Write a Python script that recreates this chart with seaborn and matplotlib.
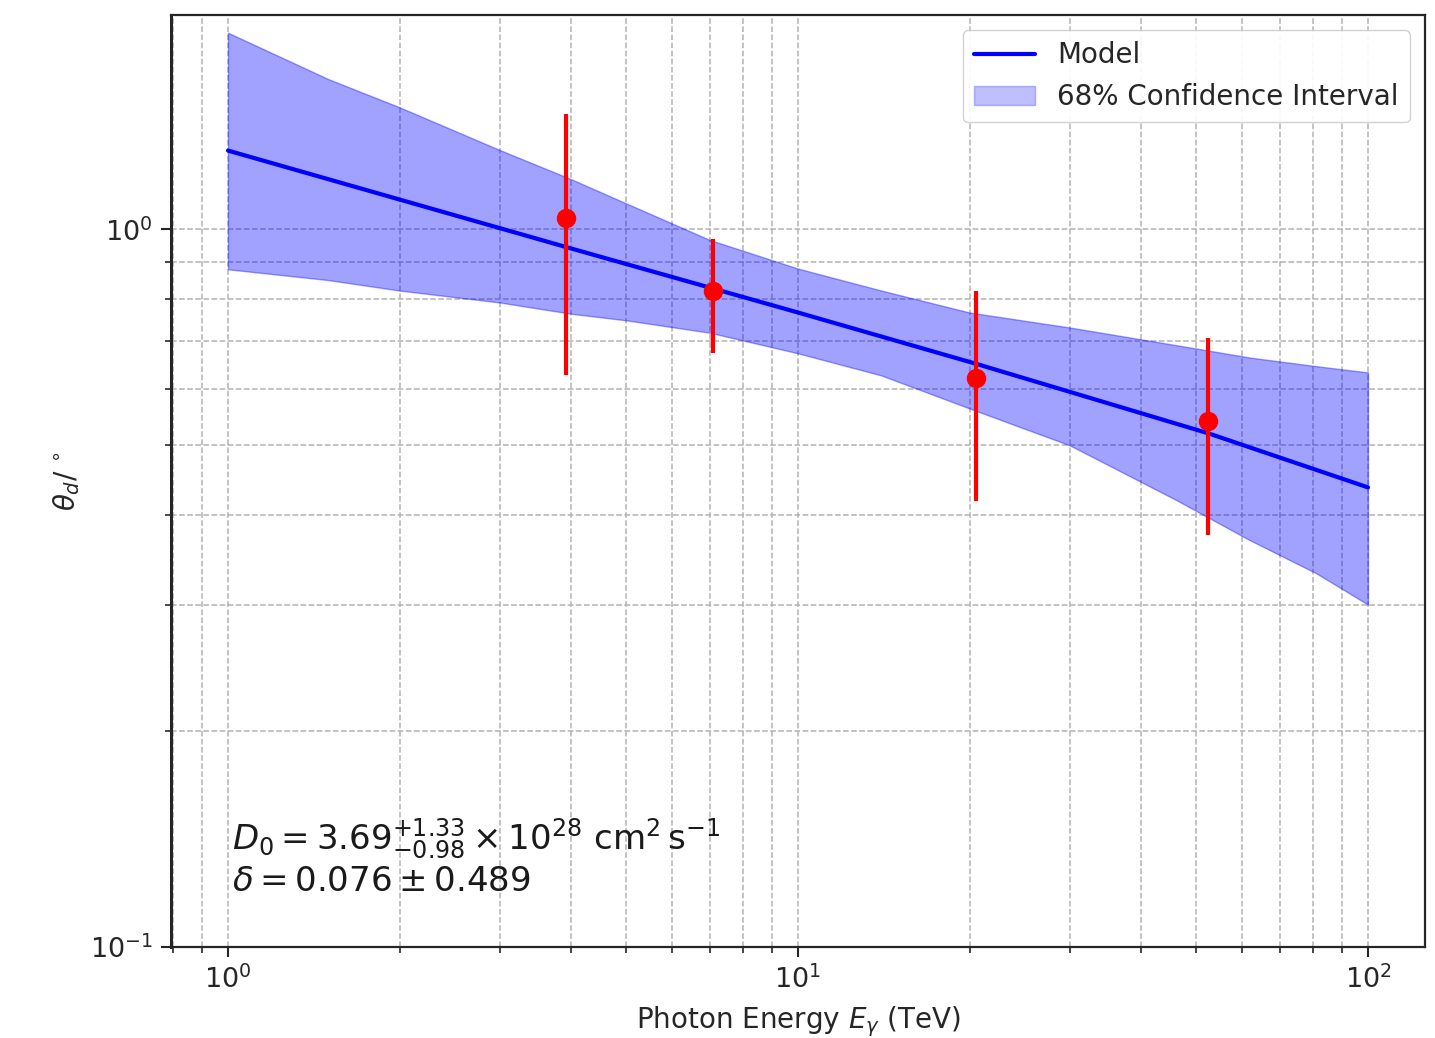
import numpy as np
import pandas as pd
import matplotlib
matplotlib.use("Agg")
import matplotlib.pyplot as plt
import seaborn as sns
from matplotlib.patches import Patch
from matplotlib.lines import Line2D

# ---- data ----
band_E = [1.0, 1.5, 2.0, 3.0, 4.0, 5.0, 7.0, 10.0, 14.0, 20.0, 30.0, 46.0, 62.0, 81.0, 100.0]
band_upper = [1.88, 1.62, 1.48, 1.29, 1.175, 1.087, 0.967, 0.882, 0.822, 0.766, 0.73, 0.69, 0.663, 0.645, 0.632]
band_lower = [0.880, 0.85, 0.822, 0.791, 0.763, 0.747, 0.718, 0.672, 0.626, 0.563, 0.50, 0.42, 0.369, 0.332, 0.300]

model_E = [1.0, 3.92, 10.0, 20.5, 52.4, 100.0]
model_theta = [1.288, 0.945, 0.766, 0.650, 0.520, 0.437]

obs_E = [3.92, 7.09, 20.5, 52.4]
obs_theta = [1.039, 0.820, 0.620, 0.540]
obs_upper = [1.45, 0.971, 0.822, 0.705]
obs_lower = [0.626, 0.672, 0.419, 0.375]

text_D0 = r'$D_0 = 3.69^{+1.33}_{-0.98} \times 10^{28}\ \mathrm{cm}^2\,\mathrm{s}^{-1}$'
text_delta = r'$\delta = 0.076 \pm 0.489$'

sns.set_style("ticks")
plt.rcParams['font.family'] = ['DejaVu Sans']

fig = plt.figure(figsize=(14.35, 10.38), dpi=100)
ax = fig.add_axes([171/1435, 1 - 947/1038, (1425-171)/1435, (947-15)/1038])

ax.fill_between(band_E, band_lower, band_upper, color='blue', alpha=0.37,
                edgecolor='blue', linewidth=1.0, zorder=2)

model_df = pd.DataFrame({'E': model_E, 'theta': model_theta})
sns.lineplot(data=model_df, x='E', y='theta', ax=ax, color='blue', linewidth=3,
             zorder=3, legend=False)

obs_theta_a = np.array(obs_theta)
yerr = [obs_theta_a - np.array(obs_lower), np.array(obs_upper) - obs_theta_a]
ax.errorbar(obs_E, obs_theta, yerr=yerr, fmt='o', color='red', ms=13,
            elinewidth=3, capsize=0, zorder=4)

ax.set_xscale('log')
ax.set_yscale('log')
ax.set_xlim(10**-0.1, 10**2.1)
ax.set_ylim(0.1, 1.99)

ax.grid(True, which='both', linestyle='--', color='0.7', linewidth=1.1, zorder=0)
ax.set_axisbelow(True)

for s in ax.spines.values():
    s.set_linewidth(1.6)
    s.set_color('0.15')
ax.spines['left'].set_linewidth(2.2)

ax.tick_params(which='major', length=7, width=1.5, labelsize=19.5, direction='out',
               color='0.15', pad=6)
ax.tick_params(which='minor', length=4, width=1.2, direction='out', color='0.15')

ax.set_xlabel(r'Photon Energy $E_\gamma$ (TeV)', fontsize=20, color='0.15', labelpad=8)
ax.set_ylabel(r'$\theta_d/\ ^{\circ}$', fontsize=20, color='0.15', labelpad=6)

ax.text(0.049, 0.115, text_D0, transform=ax.transAxes, fontsize=24.5, va='center', ha='left', color='0.1')
ax.text(0.049, 0.070, text_delta, transform=ax.transAxes, fontsize=24.5, va='center', ha='left', color='0.1')

handles = [Line2D([0], [0], color='blue', lw=3),
           Patch(facecolor='blue', alpha=0.25, edgecolor='blue')]
leg = ax.legend(handles, ['Model', '68% Confidence Interval'], loc='upper right',
                fontsize=20, frameon=True, fancybox=True, framealpha=0.9,
                borderaxespad=0.55, handlelength=2.2)
leg.get_frame().set_edgecolor('0.8')

fig.savefig('out.png', dpi=100)
